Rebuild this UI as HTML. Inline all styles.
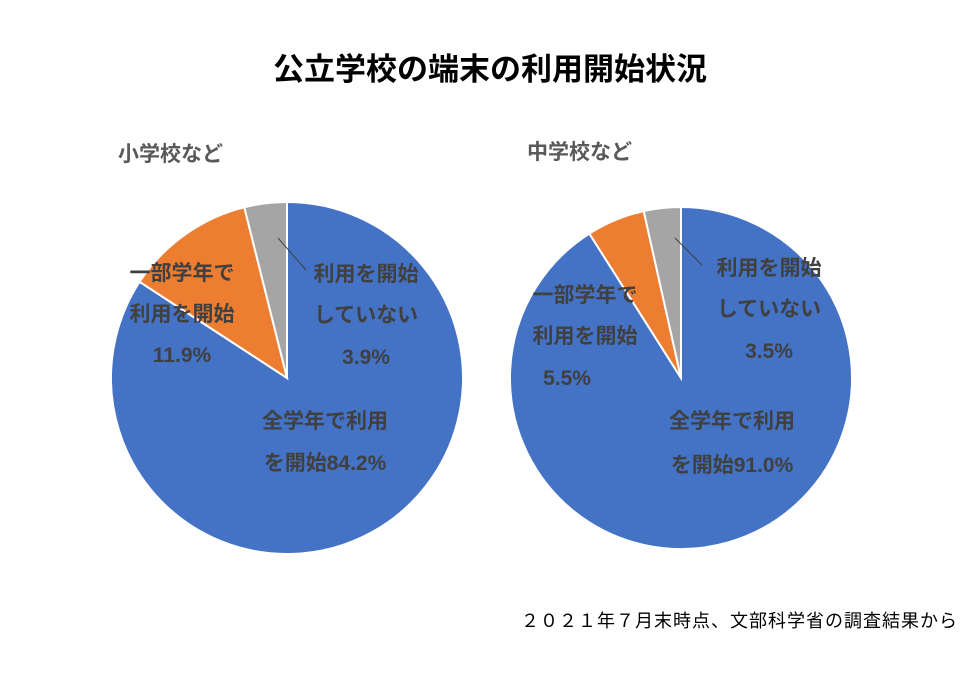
<!DOCTYPE html>
<html><head><meta charset="utf-8"><style>
body{margin:0;background:#fff;}
svg text{font-family:"Liberation Sans","Noto Sans CJK JP",sans-serif;}
</style></head><body>
<svg width="973" height="675" xmlns="http://www.w3.org/2000/svg">
<rect width="973" height="675" fill="#fff"/>
<text x="490" y="80" text-anchor="middle" font-size="31" font-weight="bold" fill="#000">公立学校の端末の利用開始状況</text>
<text x="118" y="161" font-size="21" font-weight="bold" fill="#595959">小学校など</text>
<text x="527" y="159" font-size="21" font-weight="bold" fill="#595959">中学校など</text>
<g id="pies"></g>
<g font-size="21" font-weight="bold" fill="#404040" text-anchor="middle">
<text x="182" y="280">一部学年で</text>
<text x="182" y="321">利用を開始</text>
<text x="182" y="362">11.9%</text>
<text x="366" y="281">利用を開始</text>
<text x="366" y="322">していない</text>
<text x="366" y="364">3.9%</text>
<text x="325" y="428">全学年で利用</text>
<text x="325" y="470">を開始84.2%</text>
<text x="585" y="302">一部学年で</text>
<text x="585" y="343">利用を開始</text>
<text x="567" y="385">5.5%</text>
<text x="769" y="275">利用を開始</text>
<text x="769" y="316">していない</text>
<text x="769" y="358">3.5%</text>
<text x="732" y="428">全学年で利用</text>
<text x="732" y="472">を開始91.0%</text>
</g>
<line x1="278" y1="238" x2="306" y2="270" stroke="#404040" stroke-width="1"/>
<line x1="675" y1="238" x2="702" y2="265" stroke="#404040" stroke-width="1"/>
<text x="958" y="627" text-anchor="end" font-size="18" fill="#000" letter-spacing="1">２０２１年７月末時点、文部科学省の調査結果から</text>
</svg>
<script>
const categories = ["全学年で利用を開始","一部学年で利用を開始","利用を開始していない"];
const elementaryValues = [84.2, 11.9, 3.9];
const juniorValues = [91.0, 5.5, 3.5];
const colors = ["#4472C4","#ED7D31","#A5A5A5"];
const g = document.getElementById('pies');
function drawPie(vals, cx, cy, r, prefix){
  const total = vals.reduce((a,b)=>a+b,0);
  let a0 = 0;
  vals.forEach((v,i)=>{
    const a1 = a0 + v/total*2*Math.PI;
    const x0 = cx + r*Math.sin(a0), y0 = cy - r*Math.cos(a0);
    const x1 = cx + r*Math.sin(a1), y1 = cy - r*Math.cos(a1);
    const large = (a1-a0) > Math.PI ? 1 : 0;
    const p = document.createElementNS('http://www.w3.org/2000/svg','path');
    p.setAttribute('d', `M${cx},${cy} L${x0},${y0} A${r},${r} 0 ${large} 1 ${x1},${y1} Z`);
    p.setAttribute('fill', colors[i]);
    p.setAttribute('stroke', '#fff');
    p.setAttribute('stroke-width', '2');
    
    
    g.appendChild(p);
    a0 = a1;
  });
}
drawPie(elementaryValues, 287, 378, 176, 'elementary');
drawPie(juniorValues, 681, 378, 171, 'junior-high');
</script>
</body></html>
